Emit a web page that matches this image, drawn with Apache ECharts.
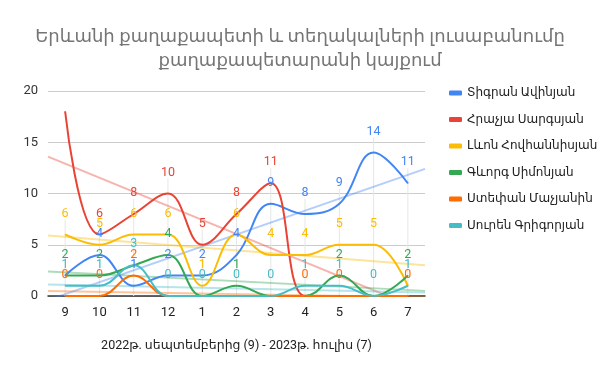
<!DOCTYPE html>
<html>
<head>
<meta charset="utf-8">
<script src="https://cdn.jsdelivr.net/npm/echarts@6/dist/echarts.min.js"></script>
<style>html,body{margin:0;padding:0;background:#fff}#c{width:600px;height:371px}</style>
</head>
<body>
<div id="c"></div>
<script>
var categories = ['9','10','11','12','1','2','3','4','5','6','7'];
var seriesNames = ['Տիգրան Ավինյան','Հրաչյա Սարգսյան','Լևոն Հովհաննիսյան','Գևորգ Սիմոնյան','Ստեփան Մաչյանին','Սուրեն Գրիգորյան'];
var avinyan   = [2,4,1,2,2,4,9,8,9,14,11];
var sargsyan  = [18,6,8,10,5,8,11,0,0,0,0];
var hovhannisyan = [6,5,6,6,1,6,4,4,5,5,1];
var simonyan  = [2,2,3,4,0,1,0,0,2,0,2];
var machyanin = [0,0,2,0,0,0,0,0,0,0,0];
var grigoryan = [1,1,3,0,0,0,0,1,1,0,1];
// which data labels are visible in the original (1 = shown)
var avinyanLabels   = [0,1,1,1,1,1,1,1,1,1,1];
var sargsyanLabels  = [0,1,1,1,1,1,1,0,0,0,0];
var hovhannisyanLabels = [1,1,1,1,1,1,1,1,1,1,0];
var simonyanLabels  = [1,1,0,1,0,1,0,0,1,0,1];
var machyaninLabels = [1,1,1,0,0,0,0,1,1,0,1];
var grigoryanLabels = [1,1,1,1,1,1,1,1,1,1,1];
// trendline end values (left plot edge, right plot edge)
var trendLeft  = [-0.4, 13.6, 5.9, 2.4, 0.48, 1.13];
var trendRight = [12.4, -1.5, 3.0, 0.5, -0.12, 0.33];
var yTicks = [0,5,10,15,20];
var xTitle = '2022թ. սեպտեմբերից (9) - 2023թ. հուլիս (7)';
var titleLines = ['Երևանի քաղաքապետի և տեղակալների լուսաբանումը','քաղաքապետարանի կայքում'];

var colors = ['#4285F4','#EA4335','#FBBC04','#34A853','#FF6D01','#46BDC6'];
var values = [avinyan, sargsyan, hovhannisyan, simonyan, machyanin, grigoryan];
var shown = [avinyanLabels, sargsyanLabels, hovhannisyanLabels, simonyanLabels, machyaninLabels, grigoryanLabels];
var FONT = 'Roboto, "DejaVu Sans", sans-serif';

// top visible label value per category (for the faint drop lines)
var dropTop = categories.map(function(c, i){
  var m = null;
  values.forEach(function(v, s){ if (shown[s][i]) { if (m === null || v[i] > m) m = v[i]; } });
  return m;
});

var series = [];
series.push({
  type: 'custom', xAxisIndex: 0, yAxisIndex: 0, silent: true, z: 1,
  data: dropTop.map(function(v, i){ return [i, v]; }),
  renderItem: function(params, api){
    var top = api.coord([api.value(0), api.value(1)]);
    var bot = api.coord([api.value(0), 0]);
    return { type: 'line', shape: { x1: top[0], y1: top[1] - 15, x2: bot[0], y2: bot[1] },
      style: { stroke: '#e6e6e6', lineWidth: 1 } };
  }
});
for (var s = 0; s < 6; s++) {
  series.push({
    type: 'line', xAxisIndex: 1, yAxisIndex: 0, silent: true, z: 2,
    data: [[-0.5, trendLeft[s]], [10.5, trendRight[s]]],
    symbol: 'none', clip: true,
    lineStyle: { color: colors[s], width: 2, opacity: 0.4 },
    itemStyle: { color: colors[s] }
  });
}
for (var s2 = 0; s2 < 6; s2++) {
  (function(s){
    series.push({
      name: seriesNames[s], type: 'line', xAxisIndex: 0, yAxisIndex: 0, z: 3,
      smooth: 0.4, symbol: 'circle', symbolSize: 1, showSymbol: true,
      clip: true,
      data: values[s].map(function(v, i){ return { value: v, label: { show: !!shown[s][i] } }; }),
      lineStyle: { color: colors[s], width: 2 },
      itemStyle: { color: colors[s] },
      label: { show: true, position: 'top', distance: 14, color: colors[s], fontSize: 12.5, fontFamily: FONT },
      emphasis: { disabled: true }
    });
  })(s2);
}

var chart = echarts.init(document.getElementById('c'), null, { renderer: 'canvas' });
chart.setOption({
  animation: false,
  backgroundColor: '#ffffff',
  title: {
    text: titleLines.join('\n'), left: 'center', top: 20,
    textStyle: { color: '#757575', fontSize: 18, fontWeight: 'normal', fontFamily: FONT, lineHeight: 24 }
  },
  legend: {
    orient: 'vertical', left: 444, top: 81, itemGap: 12.5,
    icon: 'roundRect', itemWidth: 13, itemHeight: 5,
    data: seriesNames,
    textStyle: { color: '#222', fontSize: 12, fontFamily: FONT, lineHeight: 14 }
  },
  grid: { left: 48, top: 91, width: 377, height: 205, containLabel: false },
  xAxis: [{
    type: 'category', data: categories, boundaryGap: true,
    axisLine: { show: true, lineStyle: { color: '#333', width: 1.5 } },
    axisTick: { show: false },
    axisLabel: { color: '#222', fontSize: 13, fontFamily: FONT, margin: 10 },
    splitLine: { show: false },
    name: xTitle, nameLocation: 'middle', nameGap: 43,
    nameTextStyle: { color: '#222', fontSize: 12.5, fontFamily: FONT }
  }, {
    type: 'value', min: -0.5, max: 10.5, show: false
  }],
  yAxis: {
    type: 'value', min: 0, max: 20, interval: 5,
    axisLine: { show: false }, axisTick: { show: false },
    axisLabel: { color: '#333', fontSize: 13, fontFamily: FONT, margin: 10,
      formatter: function(v){ return yTicks.indexOf(v) >= 0 ? String(v) : ''; } },
    splitLine: { lineStyle: { color: '#cccccc', width: 1 } }
  },
  series: series
});
</script>
</body>
</html>
